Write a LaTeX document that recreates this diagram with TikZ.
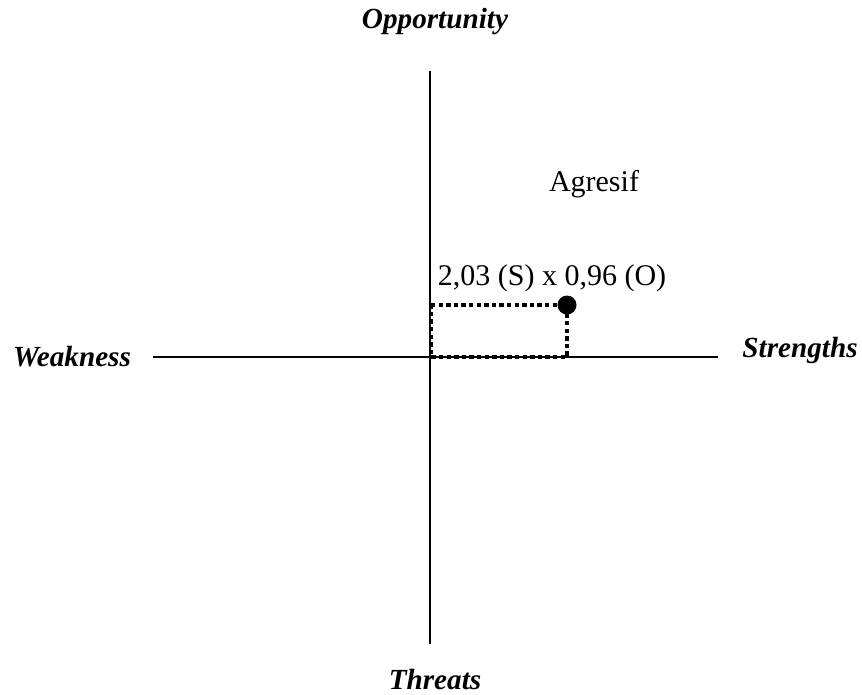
\documentclass[tikz,border=0pt]{standalone}
\usepackage{fontspec}
\setmainfont{Liberation Serif}
\begin{document}
\begin{tikzpicture}[x=0.75pt,y=-0.75pt]
    \tikzstyle{every node}=[font=\fontsize{22.5}{26}\selectfont,inner sep=0pt];
    \tikzstyle{axislabel}=[font=\fontsize{21.9}{26}\selectfont\bfseries\itshape];
    \tikzstyle{axis}=[draw,line width=1.1pt];
    \tikzstyle{guide}=[draw,line width=3.6pt,dash pattern=on 3.3pt off 2.4pt];
    \useasboundingbox (0,0) rectangle (862,694);
    \coordinate (top) at (430, 71);
    \coordinate (bot) at (430, 644);
    \coordinate (lft) at (153, 357);
    \coordinate (rgt) at (718, 357);
    \coordinate (org) at (431, 357);
    \coordinate (c1) at (431, 305);
    \coordinate (c2) at (567, 305);
    \coordinate (c3) at (567, 357);
    \node[axislabel] at (435, 22)  (opp) {Opportunity};
    \node[axislabel] at (435, 679) (thr) {Threats};
    \node[axislabel] at (72, 357)  (weak) {Weakness};
    \node[axislabel] at (800, 350) (str) {Strengths};
    \node at (594, 184) (agr) {Agresif};
    \node at (552, 278) (val) {2,03 (S) x 0,96 (O)};
\draw[axis] (top) to (bot);
\draw[axis] (lft) to (rgt);
\draw[guide] (c1) to (c2) to (c3) to (org) to (c1);
\fill (c2) circle (9.5);
\end{tikzpicture}
\end{document}
